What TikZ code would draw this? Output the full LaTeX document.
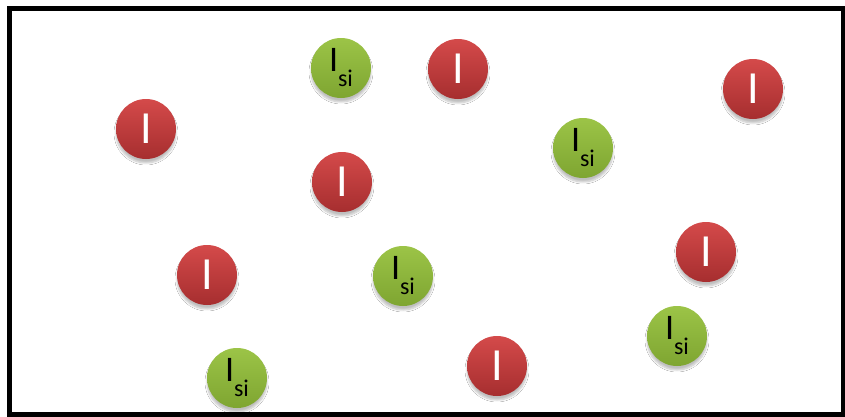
\documentclass[tikz,border=0pt]{standalone}
\usepackage{fontspec}
\setmainfont{Carlito}
\usetikzlibrary{shadows,shadows.blur}
\definecolor{redtop}{HTML}{D44A4A}
\definecolor{redbot}{HTML}{A62E2F}
\definecolor{greentop}{HTML}{9CC447}
\definecolor{greenbot}{HTML}{7EA531}
\tikzset{
  ball/.style={circle, minimum size=60pt, inner sep=0pt,
    blur shadow={shadow xshift=0pt, shadow yshift=-4pt, shadow opacity=25, shadow blur steps=6}},
  redball/.style={ball, top color=redtop, bottom color=redbot, text=white,
    font=\fontsize{46}{46}\selectfont},
  greenball/.style={ball, top color=greentop, bottom color=greenbot, text=black,
    font=\fontsize{36}{36}\selectfont},
  frame/.style={draw=black, line width=5pt}
}
\newcommand{\isi}{I\raisebox{-15pt}{\fontsize{24}{24}\selectfont si}}
\begin{document}
\begin{tikzpicture}[x=1pt,y=-1pt]
\useasboundingbox (0,0) rectangle (845,416);
\fill[white] (0,0) rectangle (845,416);
\draw[frame] (9.5,8.5) rectangle (843.5,414.5);
% red
\node[redball] (r1) at (146,129) {\raisebox{-4pt}{I}};
\node[redball] (r2) at (458,69) {\raisebox{-4pt}{I}};
\node[redball] (r3) at (753,89) {\raisebox{-4pt}{I}};
\node[redball] (r4) at (342,182) {\raisebox{-4pt}{I}};
\node[redball] (r5) at (207,275) {\raisebox{-4pt}{I}};
\node[redball] (r6) at (706,252) {\raisebox{-4pt}{I}};
\node[redball] (r7) at (497,366) {\raisebox{-4pt}{I}};
% green
\node[greenball] (g1) at (341,68) {\isi};
\node[greenball] (g2) at (583,148) {\isi};
\node[greenball] (g3) at (403,276) {\isi};
\node[greenball] (g4) at (677,336) {\isi};
\node[greenball] (g5) at (237,378) {\isi};
\end{tikzpicture}
\end{document}
